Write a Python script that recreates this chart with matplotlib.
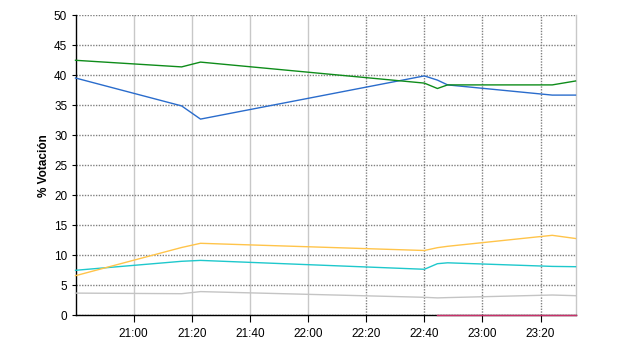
import matplotlib
matplotlib.use("Agg")
import matplotlib.pyplot as plt
import numpy as np

plt.rcParams['font.family'] = ['Liberation Sans', 'DejaVu Sans']

times = ["20:40:00", "21:16:30", "21:23:00", "22:40:00", "22:44:30", "22:48:00", "23:24:00", "23:32:00"]
green = [42.5, 41.4, 42.2, 38.7, 37.8, 38.4, 38.4, 39.05]
blue = [39.55, 34.9, 32.7, 39.9, 39.2, 38.4, 36.7, 36.7]
yellow = [6.6, 11.3, 12.0, 10.8, 11.27, 11.5, 13.33, 12.8]
cyan = [7.5, 9.0, 9.15, 7.67, 8.6, 8.75, 8.15, 8.1]
gray = [3.7, 3.6, 3.95, 3.0, 2.9, 2.95, 3.38, 3.27]
red = [np.nan, np.nan, np.nan, np.nan, 0.12, 0.12, 0.12, 0.12]

xtick_labels = ["21:00", "21:20", "21:40", "22:00", "22:20", "22:40", "23:00", "23:20"]
y_label = "% Votación"


def to_min(s):
    p = [int(v) for v in s.split(":")]
    return p[0] * 60 + p[1] + (p[2] / 60 if len(p) > 2 else 0)


x = np.array([to_min(t) for t in times])
xt = [to_min(t) for t in xtick_labels]

fig = plt.figure(figsize=(6.4, 3.5), dpi=100)
ax = fig.add_axes([75.5 / 640, 1 - 315.3 / 350, 500 / 640, 300 / 350])

series = [
    (gray, "#c4c4c4", 3),
    (red, "#c8306a", 5),
    (cyan, "#1ec8cc", 3),
    (yellow, "#ffc44a", 3),
    (blue, "#2a6ccc", 3),
    (green, "#0e8c1a", 3),
]
for vals, col, z in series:
    ax.plot(x, vals, color=col, lw=1.0, zorder=z, clip_on=False)

ax.set_xlim(to_min("20:40"), to_min("23:32"))
ax.set_ylim(0, 50)
ax.set_yticks(np.arange(0, 51, 5))
ax.set_xticks(xt)
ax.set_xticklabels(xtick_labels)

ax.grid(True, which='major', axis='both', zorder=0)
for gl in ax.get_ygridlines():
    gl.set_color("#808080")
    gl.set_linestyle((0, (1, 1)))
    gl.set_linewidth(1.0)
for i, gl in enumerate(ax.get_xgridlines()):
    if i < 4:
        gl.set_color("#c8c8c8")
        gl.set_linestyle("-")
        gl.set_linewidth(1.0)
    else:
        gl.set_color("#808080")
        gl.set_linestyle((0, (1, 1)))
        gl.set_linewidth(1.0)

ax.spines['top'].set_visible(False)
ax.spines['right'].set_color("#c8c8c8")
ax.spines['right'].set_linewidth(1.0)
ax.spines['left'].set_color("black")
ax.spines['bottom'].set_color("black")
ax.spines['left'].set_linewidth(1.0)
ax.spines['bottom'].set_linewidth(1.0)

ax.tick_params(axis='both', labelsize=8.5, colors='black', width=0.8)
ax.tick_params(axis='y', length=3, pad=3)
ax.tick_params(axis='x', length=5, pad=4)

ax.set_ylabel(y_label, fontsize=8.5, fontweight='bold', labelpad=3)

fig.savefig("out.png", dpi=100, facecolor="white")
